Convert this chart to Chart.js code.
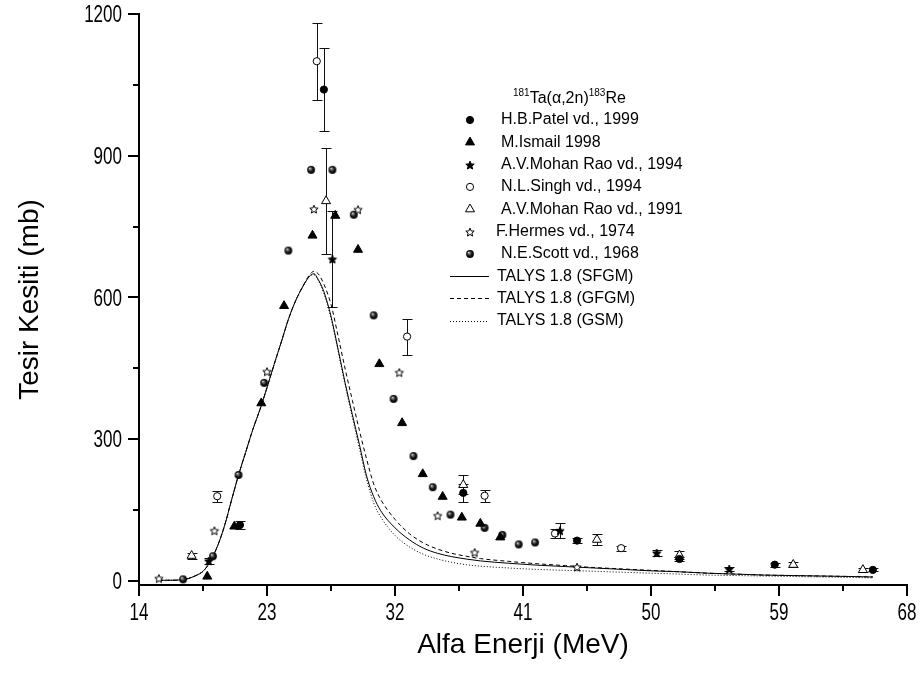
<!DOCTYPE html>
<html>
<head>
<meta charset="utf-8">
<script src="https://cdn.jsdelivr.net/npm/chart.js@4.4.0/dist/chart.umd.min.js"></script>
<style>
  html, body { margin: 0; padding: 0; background: #fff; }
  #wrap { width: 923px; height: 674px; position: relative; }
</style>
</head>
<body>
<div id="wrap"><canvas id="chart"></canvas></div>
<script>
// --- veriler ---
const patelE = [21.1, 27.0, 36.8, 44.8, 52.0, 58.7, 65.6];
const patelY = [118, 1040, 186, 85, 46, 34, 23];
const patelErr = [8, 88, 19, 6, 5, 4, 3];

const ismailE = [18.8, 20.7, 22.6, 24.2, 26.2, 27.8, 29.4, 30.9, 32.5, 33.95, 35.35, 36.7, 38.0, 39.4];
const ismailY = [9, 115, 376, 582, 731, 773, 701, 459, 334, 226, 178, 134, 121, 92];

const mohan94E = [18.9, 27.6, 43.6, 50.4, 55.5];
const mohan94Y = [42, 681, 106, 59, 25];
const mohan94Err = [6, 102, 16, 7, 4];

const singhE = [19.5, 26.5, 32.85, 38.3, 43.25, 47.9];
const singhY = [179, 1100, 517, 180, 100, 69];
const singhErr = [12, 82, 38, 13, 10, 5];

const mohan91E = [17.7, 27.15, 36.8, 46.2, 52.0, 60.0, 64.9];
const mohan91Y = [53, 804, 203, 87, 54, 34, 23];
const mohan91Err = [6, 113, 20, 11, 8, 5, 5];

const hermesE = [15.4, 19.3, 23.0, 26.3, 29.4, 32.3, 35.0, 37.6, 44.8];
const hermesY = [5, 106, 443, 787, 786, 441, 138, 60, 29];

const scottE = [17.1, 19.2, 21.0, 22.8, 24.5, 26.1, 27.6, 29.1, 30.5, 31.9, 33.3, 34.65, 35.9, 38.3, 39.55, 40.7, 41.85];
const scottY = [3, 52, 224, 419, 699, 870, 870, 775, 562, 385, 264, 198, 140, 112, 97, 77, 81];

// TALYS 1.8 hesaplari
const talysE = [15.4, 16, 17, 17.5, 18, 18.5, 19, 19.5, 20, 20.5, 21, 21.5, 22, 22.5, 23, 23.5, 24, 24.5, 25, 25.5,
  26, 26.3, 26.6, 27, 27.5, 28, 28.5, 29, 29.5, 30, 30.5, 31, 32, 33, 34, 35, 36, 37, 38, 40, 42, 44, 46, 48, 50,
  52, 54, 56, 58, 60, 62, 64, 65.6];
const sfgmY = [1, 1, 2, 5, 11, 20, 40, 72, 115, 170, 224, 272, 320, 362, 409, 458, 505, 553, 592, 622,
  645, 650, 638, 612, 560, 490, 418, 352, 288, 222, 178, 148, 112, 87, 69, 58, 51, 46, 42, 37, 33, 30, 27, 24, 21,
  19, 16, 14, 12, 11, 10, 9, 8];
const gfgmY = [1, 1, 2, 5, 11, 20, 40, 72, 115, 170, 224, 272, 320, 362, 409, 458, 505, 553, 592, 622,
  648, 655, 650, 628, 585, 518, 448, 382, 318, 258, 205, 172, 130, 100, 80, 67, 58, 52, 47, 41, 36, 32, 28, 25, 22,
  19, 16, 14, 12, 11, 10, 9, 8];
const gsmY = [1, 1, 2, 5, 11, 20, 40, 72, 115, 170, 224, 272, 320, 362, 409, 458, 505, 553, 592, 622,
  645, 648, 636, 608, 556, 486, 414, 346, 280, 215, 165, 135, 96, 72, 56, 46, 39, 34, 31, 27, 24, 22, 20, 18, 16,
  14, 12, 11, 10, 9, 8, 7, 6];

const xMajor = [14, 23, 32, 41, 50, 59, 68];
const xMinor = [18.5, 27.5, 36.5, 45.5, 54.5, 63.5];
const yMajor = [0, 300, 600, 900, 1200];
const yMinor = [150, 450, 750, 1050];

const sans = "'Liberation Sans', Arial, sans-serif";

// --- sembol resimleri ---
function makeStar(filled, r) {
  const c = document.createElement('canvas');
  const s = Math.ceil(r * 2 + 3);
  c.width = c.height = s;
  const g = c.getContext('2d');
  g.beginPath();
  for (let k = 0; k < 10; k++) {
    const rr = k % 2 ? r * 0.45 : r;
    const a = -Math.PI / 2 + k * Math.PI / 5;
    g.lineTo(s / 2 + rr * Math.cos(a), s / 2 + 0.5 + rr * Math.sin(a));
  }
  g.closePath();
  g.fillStyle = filled ? '#000' : '#fff';
  g.fill();
  g.lineWidth = 1;
  g.strokeStyle = '#000';
  g.stroke();
  return c;
}

function makeSphere(r) {
  const c = document.createElement('canvas');
  const s = Math.ceil(r * 2 + 2);
  c.width = c.height = s;
  const g = c.getContext('2d');
  const cx = s / 2, cy = s / 2;
  const grad = g.createRadialGradient(cx - r * 0.35, cy - r * 0.4, 0, cx, cy, r);
  grad.addColorStop(0, '#ffffff');
  grad.addColorStop(0.22, '#888888');
  grad.addColorStop(0.6, '#1a1a1a');
  grad.addColorStop(1, '#000000');
  g.beginPath();
  g.arc(cx, cy, r, 0, Math.PI * 2);
  g.fillStyle = grad;
  g.fill();
  return c;
}

const filledStar = makeStar(true, 4.4);
const openStar = makeStar(false, 4.4);
const sphere = makeSphere(3.9);

const pts = (xs, ys) => xs.map((v, i) => ({ x: v, y: ys[i] }));

function markerSet(label, xs, ys, style, extra) {
  return Object.assign({
    label: label,
    type: 'scatter',
    data: pts(xs, ys),
    pointStyle: style,
    pointRadius: 3.6,
    pointHoverRadius: 3.6,
    pointBackgroundColor: '#000',
    pointBorderColor: '#000',
    pointBorderWidth: 1,
    showLine: false,
    clip: false
  }, extra || {});
}

function talysSet(label, ys, dash) {
  return {
    label: label,
    type: 'line',
    data: pts(talysE, ys),
    borderColor: '#000',
    borderWidth: 1,
    borderDash: dash,
    pointRadius: 0,
    fill: false,
    showLine: true,
    cubicInterpolationMode: 'monotone'
  };
}

const datasets = [
  markerSet('H.B.Patel vd., 1999', patelE, patelY, 'circle', { errorBars: patelErr }),
  markerSet('M.Ismail 1998', ismailE, ismailY, 'triangle', { pointRadius: 5.2 }),
  markerSet('A.V.Mohan Rao vd., 1994', mohan94E, mohan94Y, filledStar, { errorBars: mohan94Err }),
  markerSet('N.L.Singh vd., 1994', singhE, singhY, 'circle', { pointBackgroundColor: '#fff', errorBars: singhErr }),
  markerSet('A.V.Mohan Rao vd., 1991', mohan91E, mohan91Y, 'triangle', { pointRadius: 5.2, pointBackgroundColor: '#fff', errorBars: mohan91Err }),
  markerSet('F.Hermes vd., 1974', hermesE, hermesY, openStar),
  markerSet('N.E.Scott vd., 1968', scottE, scottY, sphere),
  talysSet('TALYS 1.8 (SFGM)', sfgmY, []),
  talysSet('TALYS 1.8 (GFGM)', gfgmY, [4, 3]),
  talysSet('TALYS 1.8 (GSM)', gsmY, [1, 2])
];

// hata cubuklari
const errorBarPlugin = {
  id: 'errorBars',
  beforeDatasetsDraw(chart) {
    const { ctx, scales: { x, y } } = chart;
    ctx.save();
    ctx.strokeStyle = '#111';
    ctx.lineWidth = 1;
    chart.data.datasets.forEach((ds) => {
      if (!ds.errorBars) return;
      ds.data.forEach((p, j) => {
        const e = ds.errorBars[j];
        if (!e) return;
        const px = Math.round(x.getPixelForValue(p.x)) + 0.5;
        const top = Math.round(y.getPixelForValue(p.y + e)) + 0.5;
        const bot = Math.round(y.getPixelForValue(p.y - e)) + 0.5;
        ctx.beginPath();
        ctx.moveTo(px, top); ctx.lineTo(px, bot);
        ctx.moveTo(px - 5, top); ctx.lineTo(px + 5, top);
        ctx.moveTo(px - 5, bot); ctx.lineTo(px + 5, bot);
        ctx.stroke();
      });
    });
    ctx.restore();
  }
};

// eksen cizgileri ve dar yazili etiketler
const tickFontSize = 23;
const tickSqueeze = 0.74;
const axisTickPlugin = {
  id: 'axisTicks',
  afterDraw(chart) {
    const { ctx, scales: { x, y }, chartArea } = chart;
    ctx.save();
    ctx.strokeStyle = '#000';
    ctx.lineWidth = 2;
    const by = chartArea.bottom;
    const lx = chartArea.left;
    xMajor.concat(xMinor).forEach((v) => {
      const len = xMajor.includes(v) ? 11 : 6;
      const px = Math.round(x.getPixelForValue(v));
      ctx.beginPath(); ctx.moveTo(px, by); ctx.lineTo(px, by + len); ctx.stroke();
    });
    yMajor.concat(yMinor).forEach((v) => {
      const len = yMajor.includes(v) ? 11 : 6;
      const py = Math.round(y.getPixelForValue(v));
      ctx.beginPath(); ctx.moveTo(lx, py); ctx.lineTo(lx - len, py); ctx.stroke();
    });
    ctx.fillStyle = '#000';
    ctx.font = tickFontSize + 'px ' + sans;
    ctx.textBaseline = 'alphabetic';
    const half = tickFontSize * 0.358;
    xMajor.forEach((v) => {
      ctx.save();
      ctx.translate(x.getPixelForValue(v), 612 + half);
      ctx.scale(tickSqueeze, 1);
      ctx.textAlign = 'center';
      ctx.fillText(String(v), 0, 0);
      ctx.restore();
    });
    yMajor.forEach((v) => {
      ctx.save();
      ctx.translate(lx - 17, y.getPixelForValue(v) + half);
      ctx.scale(tickSqueeze, 1);
      ctx.textAlign = 'right';
      ctx.fillText(String(v), 0, 0);
      ctx.restore();
    });
    ctx.restore();
  }
};

// grafik icindeki aciklama kutusu
function drawSymbol(ctx, ds, cx, cy) {
  const st = ds.pointStyle;
  if (st instanceof HTMLCanvasElement) {
    ctx.drawImage(st, Math.round(cx - st.width / 2), Math.round(cy - st.height / 2));
    return;
  }
  const r = ds.pointRadius;
  ctx.beginPath();
  if (st === 'circle') {
    ctx.arc(cx, cy, r, 0, Math.PI * 2);
  } else {
    for (let k = 0; k < 3; k++) {
      const a = k * 2 * Math.PI / 3;
      ctx.lineTo(cx + Math.sin(a) * r, cy - Math.cos(a) * r);
    }
    ctx.closePath();
  }
  ctx.fillStyle = ds.pointBackgroundColor;
  ctx.fill();
  ctx.lineWidth = 1;
  ctx.strokeStyle = '#000';
  ctx.stroke();
}

const legendPlugin = {
  id: 'insetLegend',
  afterDraw(chart) {
    const ctx = chart.ctx;
    ctx.save();
    ctx.fillStyle = '#000';
    ctx.textBaseline = 'middle';
    // baslik: 181Ta(α,2n)183Re
    let tx = 513;
    const ty = 99;
    [['181', true], ['Ta(α,2n)', false], ['183', true], ['Re', false]].forEach(([t, sup]) => {
      ctx.font = (sup ? '10px ' : '16px ') + sans;
      ctx.fillText(t, tx, sup ? ty - 6 : ty);
      tx += ctx.measureText(t).width;
    });
    ctx.font = '16px ' + sans;
    chart.data.datasets.forEach((ds, i) => {
      const cy = 120 + i * 22.3;
      if (ds.type === 'line') {
        ctx.save();
        ctx.strokeStyle = '#000';
        ctx.lineWidth = 1;
        ctx.setLineDash(ds.borderDash);
        ctx.beginPath();
        ctx.moveTo(450, Math.round(cy) + 0.5);
        ctx.lineTo(489, Math.round(cy) + 0.5);
        ctx.stroke();
        ctx.restore();
        ctx.fillText(ds.label, 497, cy);
      } else {
        drawSymbol(ctx, ds, 470, cy);
        ctx.fillStyle = '#000';
        ctx.fillText(ds.label, ds.label.startsWith('F.') ? 496 : 501, cy);
      }
    });
    ctx.restore();
  }
};

// etiket bosluklarini sifirla, cizim alanini sabit tut
function noLabelPadding(scale) {
  scale.paddingTop = 0;
  scale.paddingBottom = 0;
  scale.paddingLeft = 0;
  scale.paddingRight = 0;
}

const chart = new Chart(document.getElementById('chart'), {
  data: { datasets: datasets },
  options: {
    responsive: true,
    maintainAspectRatio: false,
    animation: false,
    layout: { padding: { top: 14, right: 16, left: 0, bottom: 0 } },
    plugins: { legend: { display: false }, tooltip: { enabled: false } },
    scales: {
      x: {
        type: 'linear',
        position: 'bottom',
        min: 14,
        max: 68,
        afterBuildTicks: (scale) => { scale.ticks = xMajor.map((v) => ({ value: v })); },
        afterFit: (scale) => { scale.height = 89; noLabelPadding(scale); },
        grid: { display: false, drawTicks: false },
        border: { display: true, color: '#000', width: 2 },
        ticks: { display: false },
        title: {
          display: true,
          text: 'Alfa Enerji (MeV)',
          color: '#000',
          font: { family: sans, size: 28 },
          padding: { top: 0, bottom: 12 }
        }
      },
      y: {
        type: 'linear',
        min: -9,
        max: 1200,
        afterBuildTicks: (scale) => { scale.ticks = yMajor.map((v) => ({ value: v })); },
        afterFit: (scale) => { scale.width = 139; noLabelPadding(scale); },
        grid: { display: false, drawTicks: false },
        border: { display: true, color: '#000', width: 2 },
        ticks: { display: false },
        title: {
          display: true,
          text: 'Tesir Kesiti (mb)',
          color: '#000',
          font: { family: sans, size: 28 },
          padding: { top: 13, bottom: 0 }
        }
      }
    }
  },
  plugins: [errorBarPlugin, axisTickPlugin, legendPlugin]
});
</script>
</body>
</html>
